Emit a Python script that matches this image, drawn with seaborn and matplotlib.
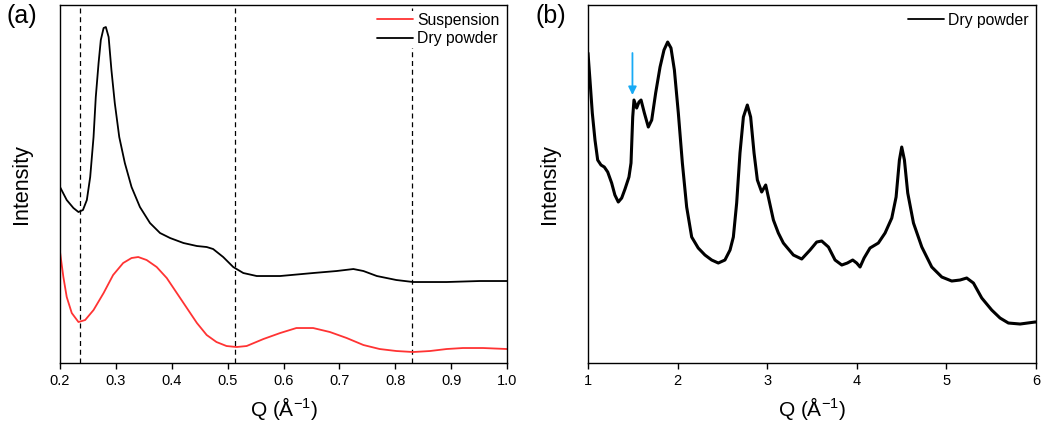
import numpy as np
import pandas as pd
import matplotlib
matplotlib.use("Agg")
import matplotlib.pyplot as plt
import seaborn as sns

# panel (a) - small angle region
q_dry_a = [0.200, 0.212, 0.224, 0.233, 0.241, 0.248, 0.254, 0.260, 0.264, 0.269, 0.273,
           0.278, 0.282, 0.287, 0.292, 0.298, 0.306, 0.316, 0.328, 0.343, 0.361, 0.379,
           0.397, 0.421, 0.445, 0.4625, 0.474, 0.492, 0.510, 0.528, 0.552, 0.594, 0.653,
           0.695, 0.725, 0.743, 0.767, 0.802, 0.832, 0.892, 0.951, 1.000]
i_dry_a = [176, 163, 155, 151, 153, 163, 186, 226, 266, 300, 323,
           335, 336, 326, 293, 260, 226, 200, 176, 156, 140, 130,
           125, 120, 117, 116, 114, 106, 96, 90, 87, 87, 90,
           92, 94, 92, 87, 83, 81, 81, 82, 82]

q_susp = [0.200, 0.206, 0.212, 0.221, 0.233, 0.245, 0.260, 0.278, 0.295, 0.313, 0.328,
          0.340, 0.355, 0.373, 0.391, 0.409, 0.427, 0.445, 0.4625, 0.480, 0.498, 0.516,
          0.534, 0.564, 0.594, 0.623, 0.653, 0.683, 0.713, 0.743, 0.772, 0.802, 0.832,
          0.862, 0.892, 0.921, 0.957, 1.000]
i_susp = [111, 86, 66, 50, 41, 43, 53, 70, 88, 100, 105,
          106, 103, 96, 85, 70, 55, 40, 28, 21, 17, 16,
          17, 24, 30, 35, 35, 31, 25, 18, 14, 12, 11,
          12, 14, 15, 15, 14]

dashed_q = [0.235, 0.513, 0.83]

# panel (b) - wide angle region
q_dry_b = [1.000, 1.022, 1.048, 1.078, 1.108, 1.145, 1.182, 1.220, 1.264, 1.300, 1.338,
           1.376, 1.413, 1.457, 1.480, 1.499, 1.513, 1.543, 1.569, 1.592, 1.629, 1.673,
           1.711, 1.755, 1.804, 1.848, 1.889, 1.926, 1.964, 2.008, 2.053, 2.101, 2.157,
           2.230, 2.305, 2.380, 2.454, 2.528, 2.585, 2.622, 2.659, 2.696, 2.734, 2.778,
           2.815, 2.853, 2.890, 2.938, 2.983, 3.020, 3.069, 3.124, 3.180, 3.217, 3.292,
           3.385, 3.478, 3.552, 3.608, 3.683, 3.757, 3.832, 3.894, 3.954, 3.998, 4.036,
           4.081, 4.147, 4.240, 4.315, 4.390, 4.438, 4.475, 4.501, 4.531, 4.568, 4.632,
           4.725, 4.836, 4.948, 5.059, 5.152, 5.226, 5.301, 5.394, 5.505, 5.598, 5.691,
           5.822, 5.989, 6.000]
i_dry_b = [310, 283, 250, 223, 203, 198, 196, 191, 180, 168, 161,
           165, 174, 186, 200, 246, 263, 255, 261, 263, 250, 236,
           243, 270, 296, 313, 321, 315, 293, 250, 200, 156, 126,
           115, 108, 103, 100, 103, 113, 126, 160, 210, 246, 258,
           246, 210, 183, 171, 178, 163, 143, 130, 120, 116, 108,
           104, 113, 121, 122, 116, 103, 98, 100, 103, 100, 96,
           105, 115, 120, 130, 145, 166, 203, 216, 203, 170, 140,
           116, 96, 86, 82, 83, 85, 80, 65, 53, 45, 40,
           39, 41, 41]

arrow_q = 1.496

sns.set_style("ticks")
plt.rcParams['font.family'] = ['Liberation Sans', 'DejaVu Sans']
plt.rcParams['mathtext.fontset'] = 'custom'
plt.rcParams['mathtext.rm'] = 'Liberation Sans'
plt.rcParams['mathtext.default'] = 'regular'
plt.rcParams['axes.linewidth'] = 1.0
plt.rcParams['text.color'] = 'black'
plt.rcParams['axes.labelcolor'] = 'black'
plt.rcParams['xtick.color'] = 'black'

fig = plt.figure(figsize=(10.42, 4.29), dpi=100)
ax1 = fig.add_axes([0.0576, 0.1538, 0.429, 0.8345])
ax2 = fig.add_axes([0.5643, 0.1538, 0.430, 0.8345])

df_a = pd.concat([
    pd.DataFrame({"Q": q_susp, "I": i_susp, "muestra": "Suspension"}),
    pd.DataFrame({"Q": q_dry_a, "I": i_dry_a, "muestra": "Dry powder"}),
])
sns.lineplot(data=df_a, x="Q", y="I", hue="muestra", sort=False,
             palette={"Suspension": "#ff3333", "Dry powder": "black"},
             linewidth=1.3, ax=ax1)
for q in dashed_q:
    ax1.axvline(q, color="black", linestyle=(0, (4, 3)), linewidth=0.9, zorder=1)

df_b = pd.DataFrame({"Q": q_dry_b, "I": i_dry_b, "muestra": "Dry powder"})
sns.lineplot(data=df_b, x="Q", y="I", hue="muestra", palette={"Dry powder": "black"},
             linewidth=2.2, ax=ax2)
ax2.annotate("", xy=(arrow_q, 268), xytext=(arrow_q, 310),
             arrowprops=dict(arrowstyle="-|>", color="#18aaf5", lw=1.3,
                             mutation_scale=12, shrinkA=0, shrinkB=0))

for ax, xlim, ticks in [(ax1, (0.2, 1.0), np.arange(0.2, 1.01, 0.1)),
                        (ax2, (1, 6), np.arange(1, 7, 1))]:
    ax.set_xlim(*xlim)
    ax.set_ylim(0, 358)
    ax.set_xticks(ticks)
    ax.set_yticks([])
    for s in ax.spines.values():
        s.set_visible(True)
        s.set_color("black")
    ax.tick_params(axis="x", direction="out", length=4, width=1, labelsize=10.5, pad=4,
                   colors="black")
    ax.set_xlabel("Q (Å$^{-1}$)", fontsize=15, labelpad=5)
    ax.set_ylabel("Intensity", fontsize=15.5, labelpad=20)
    leg = ax.legend(loc="upper right", frameon=True, fontsize=11.3, handlelength=2.3,
                    handletextpad=0.25, borderpad=0.15, labelspacing=0.2,
                    borderaxespad=0.35)
    leg.get_frame().set_edgecolor("none")
    leg.get_frame().set_facecolor("white")
    leg.get_frame().set_alpha(1)
    for line in leg.get_lines():
        line.set_linewidth(1.3)

ax1.set_xticklabels([f"{t:.1f}" for t in np.arange(0.2, 1.01, 0.1)])
ax2.set_xticklabels([str(t) for t in range(1, 7)])

fig.text(0.006, 0.99, "(a)", fontsize=18, va="top", ha="left")
fig.text(0.514, 0.99, "(b)", fontsize=18, va="top", ha="left")

fig.savefig("out.png", dpi=100)
plt.close(fig)
